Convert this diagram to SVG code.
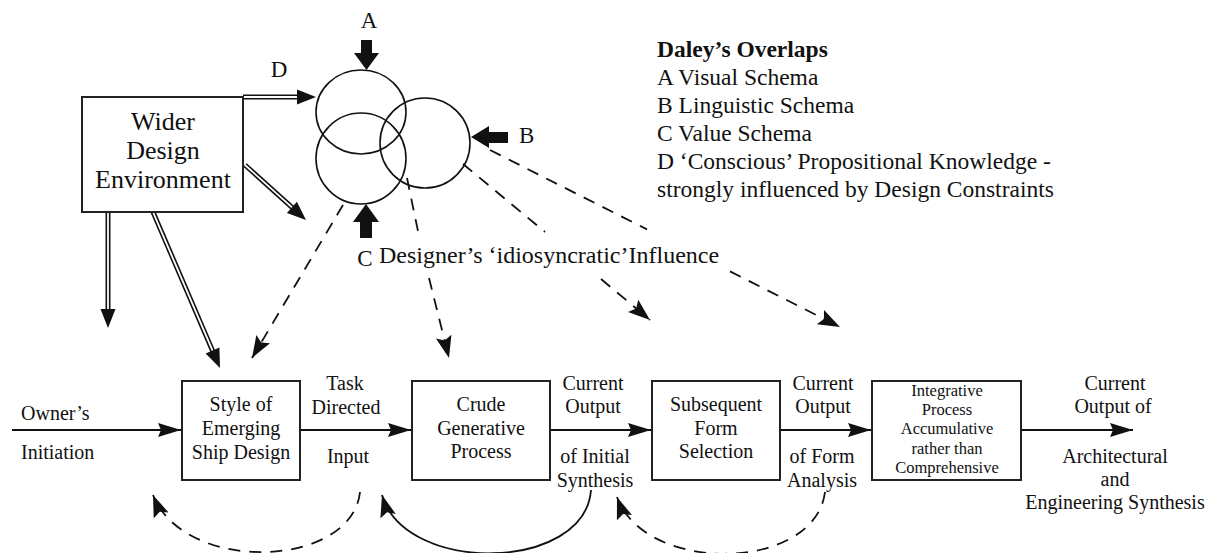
<svg xmlns="http://www.w3.org/2000/svg" width="1215" height="553" viewBox="0 0 1215 553">
<style>
text{font-family:"Liberation Serif","Times New Roman",serif;fill:#111}
.box{fill:#fff;stroke:#222;stroke-width:2}
.circ{fill:none;stroke:#111;stroke-width:1.6}
.ln{fill:none;stroke:#111;stroke-width:1.8}
.dash{fill:none;stroke:#111;stroke-width:1.8;stroke-dasharray:12 9}
.dblo{fill:none;stroke:#111;stroke-width:5}
.dbli{fill:none;stroke:#fff;stroke-width:1.8}
.head{fill:#111;stroke:none}
.f16{font-size:16.5px}
.f20{font-size:20px}
.f23{font-size:23px}
.f24{font-size:24px}
.f26{font-size:26px}
.leg{font-size:23.5px}
.mid{text-anchor:middle}
</style>
<defs>
<marker id="ah" markerUnits="userSpaceOnUse" markerWidth="24" markerHeight="16" refX="23" refY="7" orient="auto">
<path class="head" d="M0,0 L23,7 L0,14 L3,7 z"/>
</marker>
<marker id="dh" markerUnits="userSpaceOnUse" markerWidth="24" markerHeight="18" refX="22" refY="8" orient="auto">
<path class="head" d="M0,0 L22,8 L0,16 L4,8 z"/>
</marker>
</defs>

<g id="connectors">
<g id="dbl-D">
<line class="dblo" x1="243" y1="97" x2="299" y2="97"/>
<line class="dbli" x1="243" y1="97" x2="299" y2="97"/>
<polygon class="head" points="297,89.5 316,97 297,104.5"/>
</g>
<g id="dbl-diag1">
<line class="dblo" x1="245" y1="165" x2="293.4" y2="208.6"/>
<line class="dbli" x1="245" y1="165" x2="293.4" y2="208.6"/>
<polygon class="head" points="286.9,212.9 306,220 296.9,201.7"/>
</g>
<g id="dbl-down">
<line class="dblo" x1="108" y1="212" x2="108" y2="311"/>
<line class="dbli" x1="108" y1="213" x2="108" y2="311"/>
<polygon class="head" points="100.5,309 108,328 115.5,309"/>
</g>
<g id="dbl-diag2">
<line class="dblo" x1="153" y1="212" x2="213.3" y2="352.4"/>
<line class="dbli" x1="153.4" y1="213" x2="213.3" y2="352.4"/>
<polygon class="head" points="205.6,353.5 220,368 219.4,347.6"/>
</g>

<polygon id="arrow-A" class="head" points="361,40 372,40 372,53 379,53 366.5,70 354,53 361,53"/>
<polygon id="arrow-B" class="head" points="508,132 489,132 489,126 471,137 489,148 489,143 508,143"/>
<polygon id="arrow-C" class="head" points="360,238 372,238 372,222 379,222 366,204 353,222 360,222"/>

<line class="dash" x1="343" y1="205" x2="252" y2="358" marker-end="url(#dh)"/>
<line class="dash" x1="407" y1="178" x2="419" y2="236"/>
<line class="dash" x1="429" y1="278" x2="449" y2="358" marker-end="url(#dh)"/>
<line class="dash" x1="463" y1="164" x2="545" y2="232"/>
<line class="dash" x1="601" y1="279" x2="650" y2="320" marker-end="url(#dh)"/>
<line class="dash" x1="490" y1="150" x2="647" y2="229.4"/>
<line class="dash" x1="730" y1="271.4" x2="840" y2="327" marker-end="url(#dh)"/>

<line class="ln" x1="12" y1="430" x2="181" y2="430" marker-end="url(#ah)"/>
<line class="ln" x1="300" y1="430" x2="411" y2="430" marker-end="url(#ah)"/>
<line class="ln" x1="550" y1="430" x2="651" y2="430" marker-end="url(#ah)"/>
<line class="ln" x1="780" y1="430" x2="871" y2="430" marker-end="url(#ah)"/>
<line class="ln" x1="1021" y1="430" x2="1133" y2="430" marker-end="url(#ah)"/>

<path class="dash" d="M360,492 C352,568 185,575 153,495" marker-end="url(#dh)"/>
<path class="ln" d="M591,490 C585,572 405,575 382,495" marker-end="url(#dh)"/>
<path class="dash" d="M825,492 C815,572 645,575 617,497" marker-end="url(#dh)"/>
</g>

<g id="node-wider">
<rect class="box" x="82" y="97" width="161" height="115"/>
<text class="f26 mid" x="163" y="129.5">Wider</text>
<text class="f26 mid" x="163" y="159">Design</text>
<text class="f26 mid" x="163" y="188">Environment</text>
</g>

<g id="node-overlaps">
<ellipse class="circ" cx="361" cy="112" rx="45" ry="42"/>
<ellipse class="circ" cx="425" cy="143" rx="45" ry="45"/>
<ellipse class="circ" cx="361" cy="158.5" rx="45" ry="45.5"/>
</g>

<g id="labels-abcd">
<text class="f23 mid" x="369" y="28">A</text>
<text class="f23" x="519" y="143">B</text>
<text class="f23 mid" x="365" y="266">C</text>
<text class="f23 mid" x="279" y="77">D</text>
</g>

<g id="influence-label">
<text class="f24" x="379" y="263">Designer’s ‘idiosyncratic’Influence</text>
</g>

<g id="legend">
<text class="leg" x="657" y="57" font-weight="bold">Daley’s Overlaps</text>
<text class="leg" x="657" y="85">A Visual Schema</text>
<text class="leg" x="657" y="113">B Linguistic Schema</text>
<text class="leg" x="657" y="141">C Value Schema</text>
<text class="leg" x="657" y="169">D ‘Conscious’ Propositional Knowledge -</text>
<text class="leg" x="657" y="197">strongly influenced by Design Constraints</text>
</g>

<g id="label-owner">
<text class="f20" x="21" y="420">Owner’s</text>
<text class="f20" x="21" y="459">Initiation</text>
</g>

<g id="node-style">
<rect class="box" x="182" y="381" width="118" height="99"/>
<text class="f20 mid" x="241" y="411">Style of</text>
<text class="f20 mid" x="241" y="435">Emerging</text>
<text class="f20 mid" x="241" y="459">Ship Design</text>
</g>

<g id="label-task">
<text class="f20 mid" x="345" y="390">Task</text>
<text class="f20 mid" x="346" y="414">Directed</text>
<text class="f20 mid" x="348" y="463">Input</text>
</g>

<g id="node-crude">
<rect class="box" x="412" y="381" width="138" height="99"/>
<text class="f20 mid" x="481" y="411">Crude</text>
<text class="f20 mid" x="481" y="435">Generative</text>
<text class="f20 mid" x="481" y="458">Process</text>
</g>

<g id="label-initial">
<text class="f20 mid" x="593" y="390">Current</text>
<text class="f20 mid" x="593" y="413">Output</text>
<text class="f20 mid" x="595" y="463">of Initial</text>
<text class="f20 mid" x="595" y="487">Synthesis</text>
</g>

<g id="node-subsequent">
<rect class="box" x="652" y="381" width="128" height="99"/>
<text class="f20 mid" x="716" y="411">Subsequent</text>
<text class="f20 mid" x="716" y="435">Form</text>
<text class="f20 mid" x="716" y="458">Selection</text>
</g>

<g id="label-form">
<text class="f20 mid" x="823" y="390">Current</text>
<text class="f20 mid" x="823" y="413">Output</text>
<text class="f20 mid" x="822" y="463">of Form</text>
<text class="f20 mid" x="822" y="487">Analysis</text>
</g>

<g id="node-integrative">
<rect class="box" x="872" y="381" width="149" height="99"/>
<text class="f16 mid" x="947" y="396">Integrative</text>
<text class="f16 mid" x="947" y="415.2">Process</text>
<text class="f16 mid" x="947" y="434.4">Accumulative</text>
<text class="f16 mid" x="947" y="453.6">rather than</text>
<text class="f16 mid" x="947" y="472.8">Comprehensive</text>
</g>

<g id="label-output">
<text class="f20 mid" x="1115" y="390">Current</text>
<text class="f20 mid" x="1113" y="413">Output of</text>
<text class="f20 mid" x="1115" y="463">Architectural</text>
<text class="f20 mid" x="1115" y="486">and</text>
<text class="f20 mid" x="1115" y="509">Engineering Synthesis</text>
</g>
</svg>
